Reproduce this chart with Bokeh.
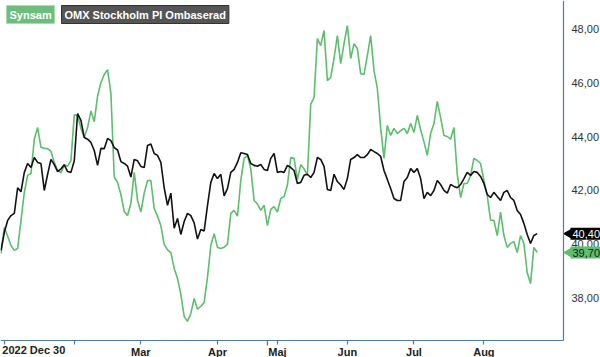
import math
from bokeh.plotting import figure
from bokeh.models import Range1d, FixedTicker, Label, ColumnDataSource
from bokeh.embed import file_html
from bokeh.resources import INLINE

# ---- data ----
series_names = ["Synsam", "OMX Stockholm PI Ombaserad"]
synsam = [39.67,40.63,40.30,39.96,39.78,39.85,40.89,41.93,42.56,42.63,
43.90,44.33,43.60,43.56,43.55,43.45,43.04,42.75,42.65,42.95,
42.90,43.10,44.80,44.78,44.30,43.96,44.33,44.95,44.55,45.50,
46.00,46.30,46.48,45.60,42.50,42.30,41.85,41.22,41.07,41.52,
42.67,41.63,41.20,41.90,42.37,42.37,41.33,41.04,40.70,40.00,
39.80,39.70,39.11,38.74,38.15,37.33,37.15,37.44,38.00,37.60,
37.70,37.85,38.78,39.96,40.40,39.89,39.85,39.90,40.00,41.15,
41.26,41.05,42.37,43.19,43.30,42.80,41.63,41.50,41.26,41.45,
40.70,41.30,41.40,41.20,41.70,41.78,42.20,43.22,43.19,42.40,
42.96,42.80,42.56,45.20,45.44,47.63,47.37,47.93,46.07,46.19,
46.90,47.74,46.70,47.44,48.11,46.89,47.44,47.26,46.33,46.30,
47.00,47.74,46.44,45.78,44.33,43.19,44.41,44.04,44.30,44.11,
44.22,44.30,44.11,44.48,44.15,44.78,44.25,43.80,43.30,44.11,
44.48,45.30,44.70,44.04,44.00,43.90,44.33,42.60,41.74,42.26,
42.26,42.55,43.19,43.11,43.00,42.37,41.80,40.90,40.89,40.33,
41.20,40.33,39.89,40.04,40.10,39.70,40.33,40.04,38.96,38.55,
39.89,39.70]
omx = [39.78,40.45,40.89,41.07,41.15,42.10,41.95,42.67,43.00,42.85,
43.22,43.04,43.00,42.00,42.60,43.15,42.96,42.70,42.80,42.95,
42.70,42.67,43.10,44.85,44.60,43.96,43.90,43.78,43.48,42.93,
43.56,43.55,43.93,43.85,43.59,43.50,43.07,43.00,42.90,42.50,
43.15,43.10,42.89,42.85,43.67,43.72,43.37,43.30,43.04,42.10,
41.45,41.90,40.60,40.96,40.37,40.85,41.15,41.07,40.80,40.20,
40.55,40.50,41.44,42.30,42.63,42.44,42.60,41.80,42.07,42.67,
42.78,43.04,43.40,43.37,43.33,43.00,42.93,42.90,42.96,42.78,
42.74,43.19,43.37,42.67,42.70,42.67,42.93,42.85,42.74,42.26,
42.30,42.56,42.60,42.48,42.67,43.22,43.15,42.89,42.04,42.00,
42.60,42.33,42.20,42.04,42.44,43.15,43.22,43.33,43.22,43.22,
43.33,43.52,43.44,43.37,43.26,42.74,42.41,42.07,41.70,41.63,
41.63,42.33,42.48,42.81,42.67,42.81,42.44,41.70,41.93,41.81,
42.00,42.37,42.22,42.00,41.90,42.22,42.15,42.10,42.22,42.44,
42.67,42.56,42.70,42.67,42.52,42.26,41.85,41.74,41.93,41.78,
41.63,41.93,42.00,41.74,41.63,41.26,41.11,40.78,40.37,40.04,
40.33,40.40]
day_index = list(range(len(synsam)))

x_tick_pos = [1, 22, 42, 65, 83, 104, 124, 145]
x_tick_labels = ["2022 Dec 30", "", "Mar", "Apr", "Maj", "Jun", "Jul", "Aug"]
y_ticks = [38, 40, 42, 44, 46, 48]
y_tick_labels = ["38,00", "40,00", "42,00", "44,00", "46,00", "48,00"]
last_labels = ["39,70", "40,40"]
marker_day = [80]

GREEN = "#5DBE6E"
BLACK = "#111111"
AXIS = "#4F7FA0"
FONT = "Liberation Sans"

# canvas = frame; the plotting area occupies the top-left 563 x 340 pixels
W, H = 600, 357
PW, PH = 563, 340
X0, X1 = -0.15, 168.9      # data x at left / right edge of plotting area
Y0, Y1 = 36.44, 49.04      # data y at bottom / top of plotting area
dx = (X1 - X0) / PW        # data per pixel
dy = (Y1 - Y0) / PH

p = figure(frame_width=W, frame_height=H, output_backend="svg", toolbar_location=None,
           x_range=Range1d(X0, X0 + W * dx), y_range=Range1d(Y1 - H * dy, Y1),
           x_axis_location="below", y_axis_location="right",
           min_border_left=0, min_border_top=0, min_border_right=0, min_border_bottom=0)
p.outline_line_color = None
p.xgrid.visible = False
p.ygrid.visible = False
p.background_fill_color = "white"
p.border_fill_color = "white"

src = ColumnDataSource(dict(x=day_index, s=synsam, o=omx))
p.line("x", "s", source=src, line_color=GREEN, line_width=1.6)
p.line("x", "o", source=src, line_color=BLACK, line_width=1.6)

# x axis drawn at the bottom of the plotting area
xa = p.xaxis[0]
xa.fixed_location = Y0
xa.bounds = (X0, X1)
xa.ticker = FixedTicker(ticks=x_tick_pos)
xa.major_label_overrides = {x_tick_pos[i]: ("" if i == 0 else x_tick_labels[i]) for i in range(len(x_tick_pos))}
xa.axis_line_color = AXIS
xa.axis_line_width = 1.2
xa.major_tick_line_color = AXIS
xa.major_tick_line_width = 1.2
xa.major_tick_out = 4
xa.major_tick_in = 0
xa.minor_tick_line_color = None
xa.major_label_text_font = FONT
xa.major_label_text_font_size = "11px"
xa.major_label_text_font_style = "bold"
xa.major_label_text_color = "#222222"
xa.major_label_standoff = 1

# red marker tick on the x axis
p.segment(x0=marker_day, y0=[Y0] * len(marker_day), x1=marker_day,
          y1=[Y0 - 5 * dy] * len(marker_day), line_color="#E8453C", line_width=1.3)

# y axis drawn at the right edge of the plotting area
ya = p.yaxis[0]
ya.fixed_location = X1
ya.bounds = (Y0, Y1)
ya.ticker = FixedTicker(ticks=y_ticks)
ya.major_label_overrides = {y_ticks[i]: y_tick_labels[i] for i in range(len(y_ticks))}
ya.axis_line_color = AXIS
ya.axis_line_width = 1.2
ya.major_tick_line_color = None
ya.major_tick_out = 0
ya.major_tick_in = 0
ya.minor_tick_line_color = None
ya.major_label_text_font = FONT
ya.major_label_text_font_size = "11px"
ya.major_label_text_color = "#333333"
ya.major_label_standoff = 8

# first date label, left-aligned at its tick
p.add_layout(Label(x=x_tick_pos[0], y=H - 343, x_units="data", y_units="screen", x_offset=-2,
                   text=x_tick_labels[0], text_align="left", text_baseline="top",
                   text_font=FONT, text_font_size="11px", text_font_style="bold",
                   text_color="#222222"))

# legend boxes
p.add_layout(Label(x=6, y=H - 5, x_units="screen", y_units="screen",
                   text=series_names[0], text_align="left", text_baseline="top",
                   text_font=FONT, text_font_size="11px", text_font_style="bold",
                   text_color="white", background_fill_color="#6DBE7C",
                   border_line_color="#A8DDB2", padding=3))
p.add_layout(Label(x=61, y=H - 5, x_units="screen", y_units="screen",
                   text=series_names[1], text_align="left", text_baseline="top",
                   text_font=FONT, text_font_size="11px", text_font_style="bold",
                   text_color="white", background_fill_color="#555555",
                   border_line_color="#333333", padding=3))

# last value tags on the right axis
tag_vals = [synsam[-1], omx[-1]]
tag_bg = [GREEN, "#000000"]
tag_fg = ["#1a1a1a", "white"]
p.scatter(x=[X1 + 6 * dx] * 2, y=tag_vals, marker="triangle", angle=math.pi / 2,
          size=10, fill_color=tag_bg, line_color=tag_bg)
for v, t, bg, fg in zip(tag_vals, last_labels, tag_bg, tag_fg):
    p.add_layout(Label(x=X1, y=v, x_units="data", y_units="data", x_offset=7,
                       text=t, text_align="left", text_baseline="middle",
                       text_font=FONT, text_font_size="11px", text_color=fg,
                       background_fill_color=bg, padding=2))

open("out.html", "w").write(file_html(p, INLINE))
